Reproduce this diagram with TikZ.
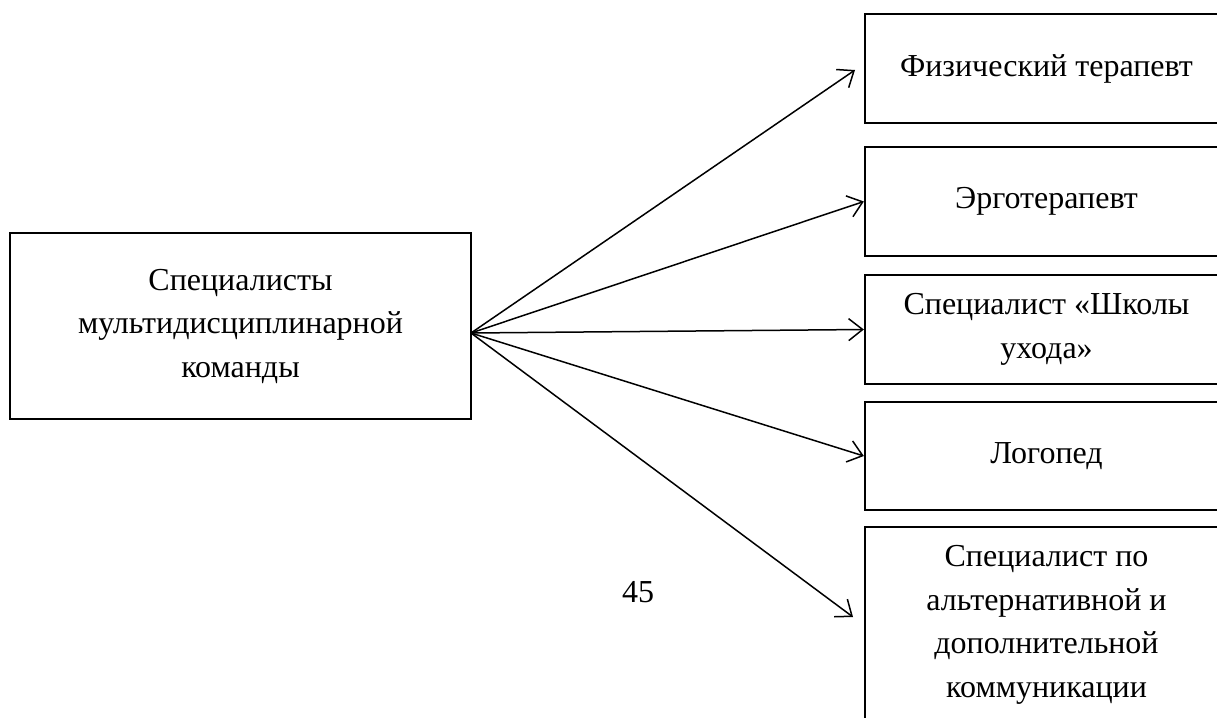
\documentclass[tikz,border=0pt]{standalone}
\usepackage{fontspec}
\setmainfont{Liberation Serif}
\usetikzlibrary{arrows.meta}
\begin{document}
\begin{tikzpicture}[x=1pt,y=-1pt,
  box/.style={draw=black, line width=2.3pt, inner sep=0pt, align=center,
    font=\fontsize{32}{43.5}\selectfont},
  rbox/.style={box, minimum width=363pt},
  conn/.style={line width=1.5pt, -{Straight Barb[length=14pt,width=22pt,line width=1.5pt]}}]
\clip (0,0) rectangle (1217,717);
\fill[white] (0,0) rectangle (1217,717);
\node[box, minimum width=461pt, minimum height=186pt] (L) at (240.5,326)
  {Специалисты\\мультидисциплинарной\\команды};
\node[rbox, minimum height=109pt] (B1) at (1046.5,68.5) {Физический терапевт};
\node[rbox, minimum height=109pt] (B2) at (1046.5,201.5) {Эрготерапевт};
\node[rbox, minimum height=109pt] (B3) at (1046.5,329.5) {Специалист «Школы\\ухода»};
\node[rbox, minimum height=108pt] (B4) at (1046.5,456) {Логопед};
\node[rbox, minimum height=196pt] (B5) at (1046.5,625)
  {Специалист по\\альтернативной и\\дополнительной\\коммуникации};
\node[font=\fontsize{32}{43}\selectfont, inner sep=0pt] (pg) at (638,592) {45};
\coordinate (src) at (471,333);
\coordinate (t1) at (855,70);
\coordinate (t5) at (853,617);
\draw[conn] (src) -- (t1);
\draw[conn] (src) -- (B2.west);
\draw[conn] (src) -- (B3.west);
\draw[conn] (src) -- (B4.west);
\draw[conn] (src) -- (t5);
\end{tikzpicture}
\end{document}
